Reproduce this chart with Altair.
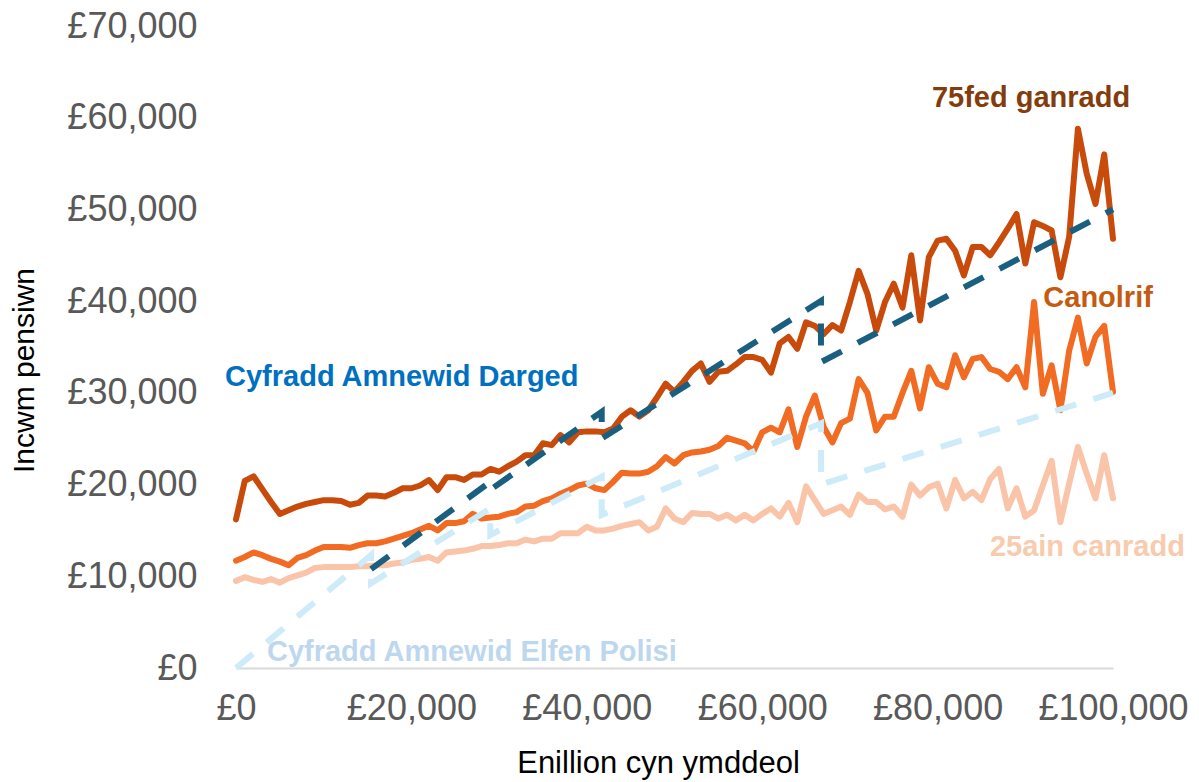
import altair as alt
import pandas as pd

# ---------------- data (values in £ thousands) ----------------
earnings = [i * 1000 for i in range(101)]

p75_k = [16.2, 20.4, 20.9, 19.5, 18.1, 16.8, 17.2, 17.6, 17.9, 18.1,
         18.3, 18.3, 18.2, 17.8, 18.0, 18.8, 18.8, 18.7, 19.1, 19.6,
         19.6, 19.9, 20.5, 19.4, 20.8, 20.8, 20.5, 21.1, 21.1, 21.7,
         21.4, 22.0, 22.5, 23.2, 23.2, 24.5, 24.3, 25.4, 24.6, 25.7,
         25.8, 25.8, 25.7, 26.1, 27.4, 28.1, 27.4, 28.1, 29.5, 31.0,
         30.1, 31.2, 32.4, 33.2, 31.2, 32.3, 32.4, 33.1, 33.9, 33.9,
         33.6, 32.2, 35.4, 36.1, 34.8, 37.7, 37.3, 36.4, 37.4, 36.8,
         39.9, 43.3, 40.8, 36.8, 39.9, 41.9, 39.3, 45.0, 37.9, 44.8,
         46.6, 46.8, 45.5, 42.8, 45.9, 45.9, 45.0, 46.4, 47.9, 49.5,
         44.1, 48.6, 48.2, 47.7, 42.6, 47.0, 58.8, 53.9, 50.6, 56.0,
         46.8]

p50_k = [11.7, 12.1, 12.6, 12.3, 11.9, 11.6, 11.2, 12.0, 12.3, 12.8,
         13.2, 13.2, 13.2, 13.1, 13.4, 13.6, 13.6, 13.8, 14.1, 14.4,
         14.7, 15.1, 15.5, 15.0, 15.8, 15.8, 16.0, 16.8, 16.3, 16.4,
         16.5, 16.8, 17.0, 17.6, 17.7, 18.2, 18.5, 19.0, 19.4, 19.9,
         20.1, 19.6, 19.4, 20.3, 21.3, 21.2, 21.2, 21.4, 22.0, 23.0,
         22.3, 23.2, 23.5, 23.6, 23.8, 24.2, 25.1, 24.8, 24.5, 23.6,
         25.7, 26.2, 25.7, 28.2, 24.1, 27.4, 29.7, 26.3, 24.6, 26.7,
         27.2, 31.5, 30.0, 25.9, 27.4, 27.4, 30.0, 32.4, 28.3, 32.8,
         31.0, 30.6, 34.1, 31.7, 33.7, 33.9, 32.6, 32.3, 31.5, 32.8,
         30.6, 39.9, 29.9, 33.0, 28.1, 34.6, 38.2, 33.2, 36.1, 37.3,
         30.1]

p25_k = [9.5, 9.9, 9.6, 9.4, 9.7, 9.3, 9.8, 10.1, 10.4, 10.9,
         11.0, 11.0, 11.0, 11.0, 11.1, 11.1, 11.2, 11.2, 11.4, 11.5,
         11.8, 11.9, 12.1, 11.7, 12.6, 12.7, 12.8, 13.0, 13.3, 13.3,
         13.4, 13.6, 13.6, 14.0, 13.8, 14.1, 14.1, 14.7, 14.7, 14.7,
         15.4, 15.0, 15.0, 15.2, 15.5, 15.7, 15.9, 15.0, 15.4, 17.4,
         16.3, 15.9, 16.9, 16.8, 16.8, 16.3, 16.7, 16.1, 16.7, 16.1,
         16.8, 17.4, 16.5, 18.0, 15.9, 19.8, 18.3, 16.8, 17.2, 17.6,
         16.7, 18.9, 18.1, 18.1, 17.3, 17.6, 16.5, 20.0, 18.8, 19.7,
         20.1, 17.4, 20.5, 18.5, 19.2, 18.3, 20.6, 21.7, 17.4, 19.6,
         16.5, 17.2, 19.9, 22.6, 15.9, 20.1, 24.1, 21.2, 18.5, 23.2,
         18.5]

target_x = [15400, 29000, 29000, 41700, 41700, 66700, 66700, 100000]
target_k = [10.78, 20.3, 19.43, 27.94, 25.02, 40.02, 33.35, 50.0]

policy_x = [0, 15400, 15400, 29000, 29000, 41700, 41700, 66700, 66700, 100000]
policy_k = [0, 12.32, 9.24, 17.4, 14.5, 20.85, 16.68, 26.68, 20.01, 30.0]

x_ticks = [0, 20000, 40000, 60000, 80000, 100000]
y_ticks = [0, 10000, 20000, 30000, 40000, 50000, 60000, 70000]

labels = [
    # text, x, y (data units), colour, align
    ("75fed ganradd", 90650, 62150, "#843C0C", "center"),
    ("Canolrif", 98300, 40350, "#C55A11", "center"),
    ("25ain canradd", 108200, 13200, "#F8CBAD", "right"),
    ("Cyfradd Amnewid Darged", -1250, 31700, "#0070C0", "left"),
    ("Cyfradd Amnewid Elfen Polisi", 3530, 1740, "#BDD7EE", "left"),
]

FONT = "Liberation Sans"

# ---------------- scales / axes ----------------
x_enc = alt.X(
    "x:Q",
    scale=alt.Scale(domain=[0, 100000], nice=False, zero=False),
    axis=alt.Axis(
        values=x_ticks, labelExpr="'£' + format(datum.value, ',')",
        labelFont=FONT, labelFontSize=36, labelColor="#595959",
        labelPadding=23, ticks=False, tickSize=0, grid=False,
        domainColor="#D9D9D9", domainWidth=2,
        title="Enillion cyn ymddeol", titleFont=FONT, titleFontSize=31,
        titleFontWeight="normal", titleColor="#000000",
        titleX=422, titleY=95, titleBaseline="middle", titleAlign="center",
        labelFlush=False, labelOverlap=False,
    ),
)
y_enc = alt.Y(
    "y:Q",
    scale=alt.Scale(domain=[0, 70000], nice=False, zero=True),
    axis=alt.Axis(
        values=y_ticks, labelExpr="'£' + format(datum.value, ',')",
        labelFont=FONT, labelFontSize=36, labelColor="#595959",
        labelPadding=39, ticks=False, tickSize=0, grid=False, domain=False,
        title="Incwm pensiwn", titleFont=FONT, titleFontSize=30,
        titleFontWeight="normal", titleColor="#000000",
        titleX=-212, titleY=344, titleBaseline="middle", titleAlign="center",
        titleAngle=270, labelOverlap=False,
    ),
)


def series_df(xs, vals_k):
    return pd.DataFrame({"x": xs, "y": [v * 1000 for v in vals_k], "i": list(range(len(xs)))})


def solid(df, color):
    return alt.Chart(df).mark_line(
        color=color, strokeWidth=6, strokeJoin="round", strokeCap="round"
    ).encode(x=x_enc, y=y_enc, order="i:Q")


def dashed(df, color):
    return alt.Chart(df).mark_line(
        color=color, strokeWidth=6, strokeDash=[22, 18], strokeCap="butt"
    ).encode(x=x_enc, y=y_enc, order="i:Q")


layers = [
    solid(series_df(earnings, p25_k), "#F9C4A8"),
    solid(series_df(earnings, p50_k), "#F26B22"),
    solid(series_df(earnings, p75_k), "#C84B0C"),
    dashed(series_df(target_x, target_k), "#1A5E80"),
    dashed(series_df(policy_x, policy_k), "#CDEBF9"),
]

for text, lx, ly, col, align in labels:
    df = pd.DataFrame({"x": [lx], "y": [ly], "t": [text]})
    layers.append(
        alt.Chart(df).mark_text(
            align=align, baseline="middle", font=FONT, fontSize=29,
            fontWeight="bold", color=col
        ).encode(x=x_enc, y=y_enc, text="t:N")
    )

chart = alt.layer(*layers).properties(
    width=877, height=642,
    padding={"left": 228, "top": 18, "right": 78, "bottom": 114},
    autosize=alt.AutoSizeParams(type="none"),
).configure_view(stroke=None)

chart.save("out.html", embed_options={"renderer": "svg", "actions": False})
